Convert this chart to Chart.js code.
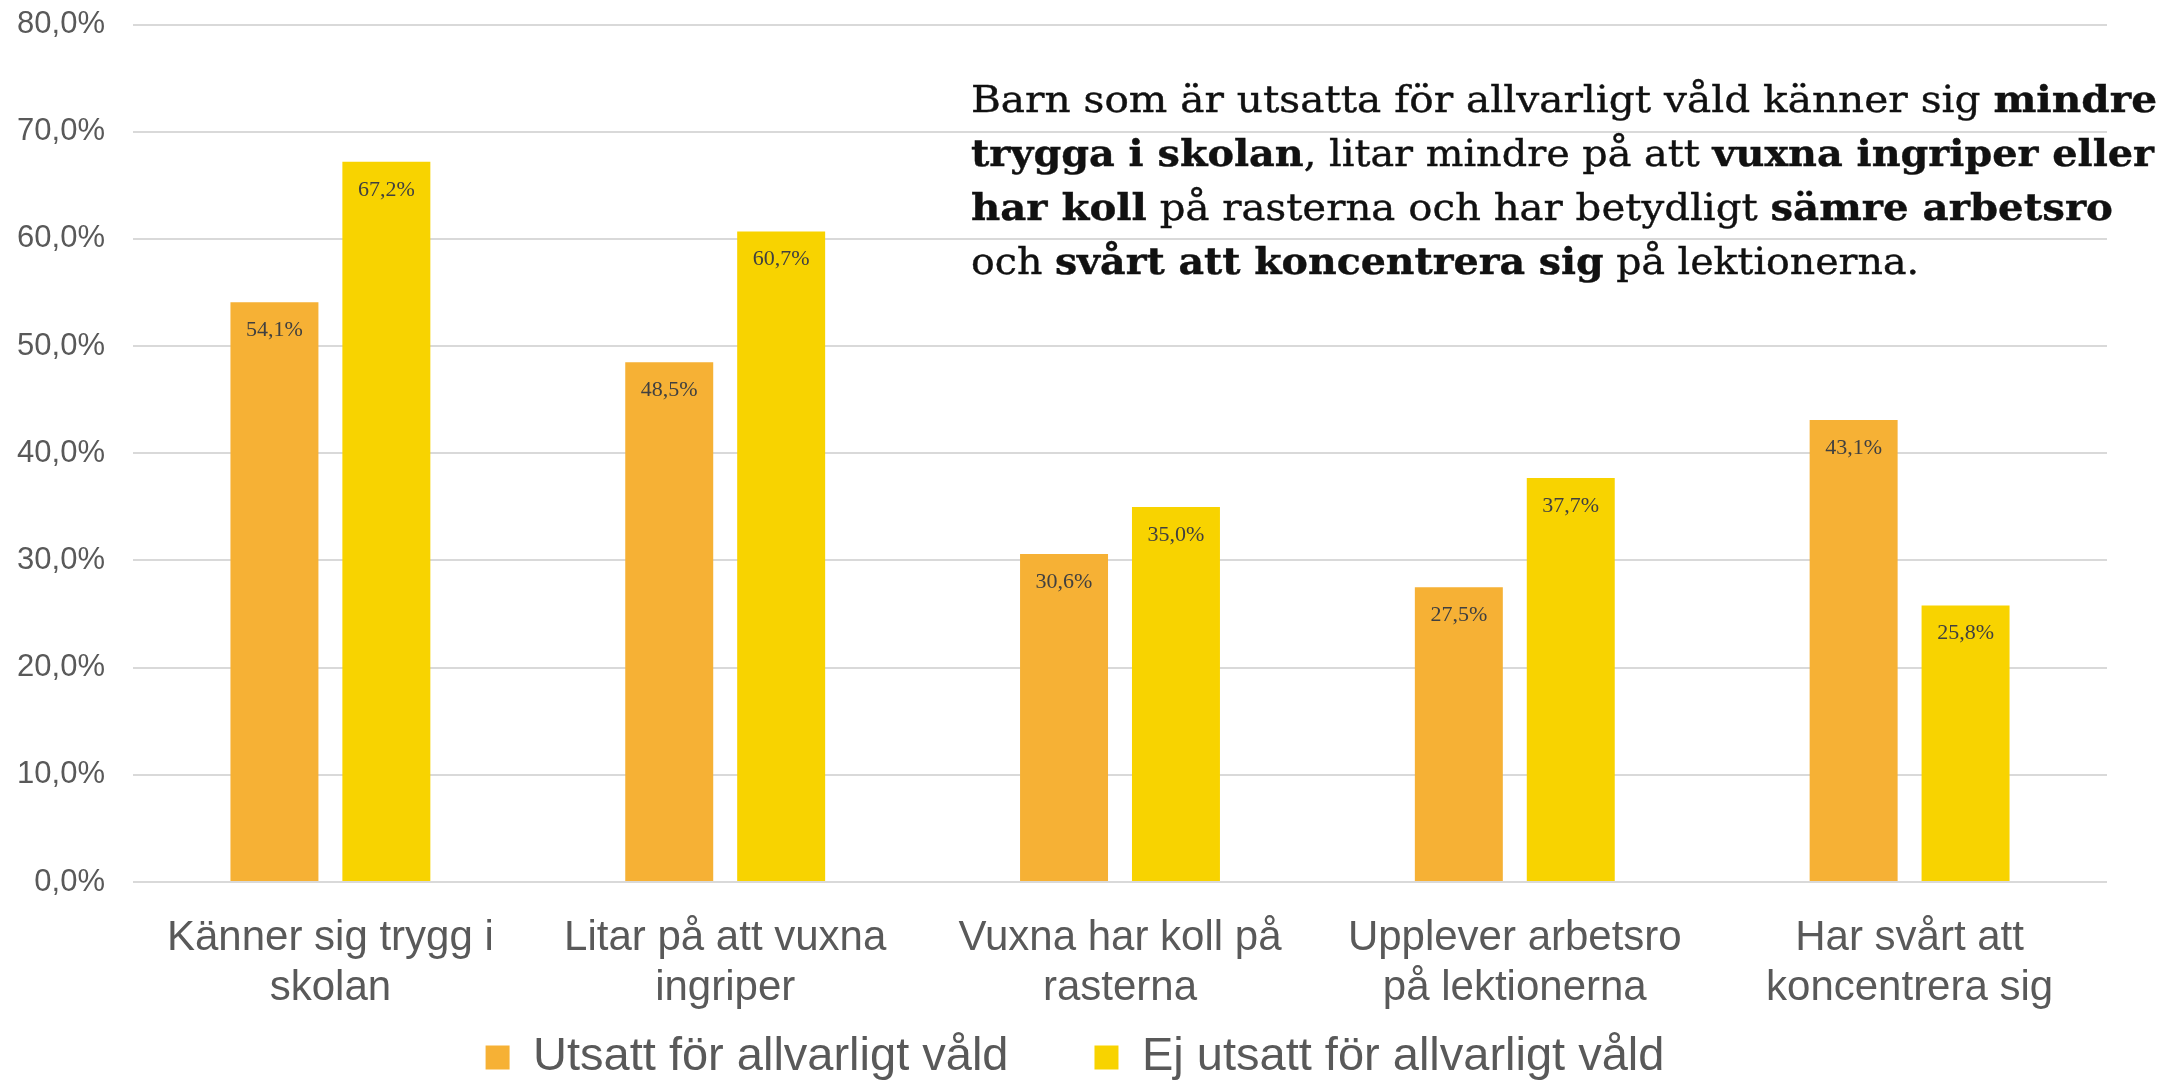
<!DOCTYPE html>
<html>
<head>
<meta charset="utf-8">
<script src="https://cdn.jsdelivr.net/npm/chart.js@4.4.1/dist/chart.umd.min.js"></script>
<style>
  html, body { margin: 0; padding: 0; background: #fff; overflow: hidden; }
  #wrap { position: relative; width: 2165px; height: 1081px; }
  #note {
    position: absolute; left: 971px; top: 72px;
    font-family: "DejaVu Serif", serif;
    font-size: 37px; line-height: 54px;
    color: #111; white-space: nowrap;
    -webkit-text-stroke: 0.4px #111;
  }
  #note .ln { height: 54px; }
  #note .ln span { display: inline-block; transform-origin: 0 50%; }
  #note b { font-weight: bold; }
</style>
</head>
<body>
<div id="wrap">
  <canvas id="c" width="2165" height="1081"></canvas>
  <div id="note">
    <div class="ln" data-w="1186"><span>Barn som är utsatta för allvarligt våld känner sig <b>mindre</b></span></div>
    <div class="ln" data-w="1183"><span><b>trygga i skolan</b>, litar mindre på att <b>vuxna ingriper eller</b></span></div>
    <div class="ln" data-w="1142"><span><b>har koll</b> på rasterna och har betydligt <b>sämre arbetsro</b></span></div>
    <div class="ln" data-w="948"><span>och <b>svårt att koncentrera sig</b> på lektionerna.</span></div>
  </div>
</div>
<script>
const categories = [
  ["Känner sig trygg i", "skolan"],
  ["Litar på att vuxna", "ingriper"],
  ["Vuxna har koll på", "rasterna"],
  ["Upplever arbetsro", "på lektionerna"],
  ["Har svårt att", "koncentrera sig"]
];
const seriesNames = ["Utsatt för allvarligt våld", "Ej utsatt för allvarligt våld"];
const utsatt = [54.1, 48.5, 30.6, 27.5, 43.1];
const ejUtsatt = [67.2, 60.7, 35.0, 37.7, 25.8];
const yTicks = [0, 10, 20, 30, 40, 50, 60, 70, 80];

const fmt = v => v.toFixed(1).replace('.', ',') + '%';

// fit annotation line widths
document.querySelectorAll('#note .ln').forEach(ln => {
  const sp = ln.querySelector('span');
  const w = sp.getBoundingClientRect().width;
  const target = parseFloat(ln.dataset.w);
  sp.style.transform = 'scaleX(' + (target / w).toFixed(4) + ')';
});

const barLabels = {
  id: 'barLabels',
  afterDatasetsDraw(chart) {
    const ctx = chart.ctx;
    ctx.save();
    ctx.font = '22px "Liberation Serif", serif';
    ctx.fillStyle = '#404040';
    ctx.textAlign = 'center';
    ctx.textBaseline = 'middle';
    chart.data.datasets.forEach((ds, di) => {
      const meta = chart.getDatasetMeta(di);
      meta.data.forEach((el, i) => {
        ctx.fillText(fmt(ds.data[i]), el.x, el.y + 28);
      });
    });
    ctx.restore();
  }
};

const unclip = {
  id: 'unclip',
  afterLayout(chart) {
    chart.scales.y.left = 0;
    chart.scales.x.bottom = chart.height;
  }
};

new Chart(document.getElementById('c'), {
  type: 'bar',
  data: {
    labels: categories,
    datasets: [
      { label: seriesNames[0], data: utsatt, backgroundColor: '#F6B135' },
      { label: seriesNames[1], data: ejUtsatt, backgroundColor: '#F8D300' }
    ]
  },
  options: {
    responsive: false,
    animation: false,
    devicePixelRatio: 1,
    layout: { padding: { left: 43, right: 58, top: 0, bottom: -10 } },
    datasets: { bar: { categoryPercentage: 0.567, barPercentage: 0.786 } },
    scales: {
      x: {
        grid: { display: false },
        border: { display: false },
        ticks: {
          color: '#595959',
          padding: 23,
          maxRotation: 0,
          autoSkip: false,
          font: { family: '"Liberation Sans", Arial, sans-serif', size: 42, lineHeight: '50px' }
        },
        afterFit(scale) { scale.height = 66; }
      },
      y: {
        min: 0, max: 80,
        afterBuildTicks(scale) { scale.ticks = yTicks.map(v => ({ value: v })); },
        grid: { color: '#D9D9D9', lineWidth: 2, drawTicks: true, tickLength: 22, tickColor: 'rgba(0,0,0,0)' },
        border: { display: false },
        ticks: {
          color: '#595959',
          padding: 6,
          font: { family: '"Liberation Sans", Arial, sans-serif', size: 31 },
          callback: v => fmt(v)
        },
        afterFit(scale) { scale.width = 90; }
      }
    },
    plugins: {
      legend: {
        position: 'bottom',
        labels: {
          color: '#595959',
          boxWidth: 24,
          boxHeight: 24,
          padding: 86,
          font: { family: '"Liberation Sans", Arial, sans-serif', size: 47 }
        }
      },
      tooltip: { enabled: false }
    }
  },
  plugins: [barLabels, unclip]
});
</script>
</body>
</html>
